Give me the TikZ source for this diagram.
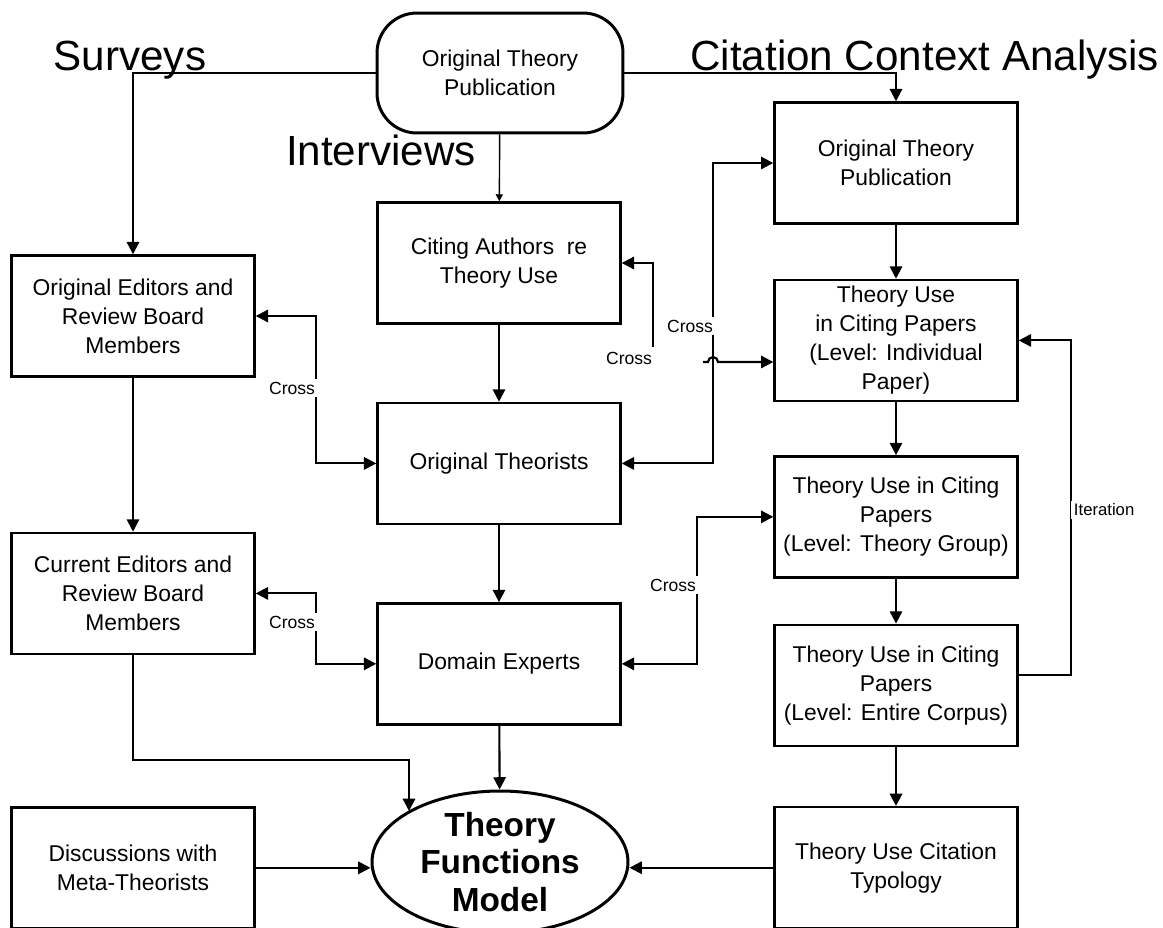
\documentclass[tikz,border=0pt]{standalone}
\usepackage{fontspec}
\setmainfont{Liberation Sans}
\usetikzlibrary{shapes.geometric, arrows.meta, positioning, calc}

\begin{document}
\begin{tikzpicture}[
  x=0.02cm, y=-0.02cm,
  every node/.style={font=\fontsize{13}{16.5}\selectfont},
  box/.style={rectangle, draw, line width=1.4pt, minimum width=4.86cm,
              minimum height=2.42cm, align=center, inner sep=0pt},
  startbox/.style={rectangle, rounded corners=0.8cm, draw, line width=1.7pt,
                   minimum width=4.92cm, minimum height=2.4cm, align=center},
  model/.style={ellipse, draw, line width=1.7pt, minimum width=5.12cm,
                minimum height=2.84cm, inner sep=0pt, align=center,
                font=\fontsize{19}{21.5}\selectfont\bfseries},
  arrow/.style={-{Triangle[length=7pt,width=7pt]}, line width=1.2pt},
  twoway/.style={{Triangle[length=7pt,width=7pt]}-{Triangle[length=7pt,width=7pt]}, line width=1.2pt},
  heading/.style={font=\fontsize{24}{28}\selectfont, inner sep=0pt},
  tag/.style={font=\fontsize{10}{12}\selectfont, fill=white, inner sep=1.5pt},
]
\useasboundingbox (0,0) rectangle (1163,927);

% Headings
\node[heading] (surveys) at (130,60) {Surveys};
\node[heading] (interviews) at (381,150) {Interviews};
\node[heading, anchor=west] (cca) at (690,60) {Citation Context Analysis};

% Nodes
\node[startbox] (pub) at (500,73) {Original Theory\\Publication};

\node[box] (oedit) at (133,316) {Original Editors and\\Review Board\\Members};
\node[box, below=3.08cm of oedit] (cedit) {Current Editors and\\Review Board\\Members};
\node[box, below=3.02cm of cedit] (meta) {Discussions with\\Meta-Theorists};

\node[box] (citing) at (499,263) {Citing Authors\ \ re\\Theory Use};
\node[box, below=1.54cm of citing] (theorists) {Original Theorists};
\node[box, below=1.54cm of theorists] (experts) {Domain Experts};
\node[model] (model) at (500,862) {Theory\\Functions\\Model};

\node[box] (otp) at (896,163) {Original Theory\\Publication};
\node[box, below=1.08cm of otp] (indiv) {Theory Use\\in Citing Papers\\(Level: Individual\\Paper)};
\node[box, below=1.06cm of indiv] (group) {Theory Use in Citing\\Papers\\(Level: Theory Group)};
\node[box, below=0.9cm of group] (corpus) {Theory Use in Citing\\Papers\\(Level: Entire Corpus)};
\node[box, below=1.18cm of corpus] (typology) {Theory Use Citation\\Typology};

% Arrows
\draw[arrow] (pub.west) -| (oedit.north);
\draw[arrow] (pub.east) -| (otp.north);
\draw[-{Triangle[length=4pt,width=4pt]}, line width=0.8pt] (pub) -- (citing);

\draw[arrow] (oedit) -- (cedit);
\coordinate (drop) at (409,760);
\draw[arrow] (cedit.south) |- (drop) -- (drop |- model.151);
\draw[arrow] (meta.east) -- (meta.east -| model.west);

\draw[arrow] (citing) -- (theorists);
\draw[arrow] (theorists) -- (experts);
\draw[arrow] (experts) -- (model);

\draw[arrow] (otp) -- (indiv);
\draw[arrow] (indiv) -- (group);
\draw[arrow] (group) -- (corpus);
\draw[arrow] (corpus) -- (typology);
\draw[arrow] (typology.west) -- (typology.west -| model.east);

% Cross links
\draw[twoway] (oedit.east) -| (316,390) |- (theorists.west);
\node[tag, anchor=east] (cross1) at (318,388) {Cross};
\draw[twoway] (cedit.east) -| (316,622) |- (experts.west);
\node[tag, anchor=east] (cross2) at (318,622) {Cross};

\coordinate (citefoot) at (653,347);
\draw[arrow] (citefoot) |- (citing.east);
\node[tag, anchor=east] (cross3) at (655,358) {Cross};

\draw[twoway] (theorists.east) -| (713,300) |- (otp.west);
\node[tag, anchor=east] (cross4) at (716,326) {Cross};
\coordinate (hopfrom) at (703,362);
\draw[arrow] (hopfrom) -- ++(5,0) arc[start angle=180, end angle=0, radius=0.1cm]
  -- (hopfrom -| indiv.west);

\draw[twoway] (experts.east) -| (697,580) |- (group.west);
\node[tag, anchor=east] (cross5) at (699,585) {Cross};

\draw[arrow] ([yshift=0.2cm]corpus.east) -| (1071,500) |- (indiv.east);
\node[tag, anchor=west, font=\fontsize{9.5}{11}\selectfont] (iter) at (1071,510) {Iteration};

\end{tikzpicture}
\end{document}
